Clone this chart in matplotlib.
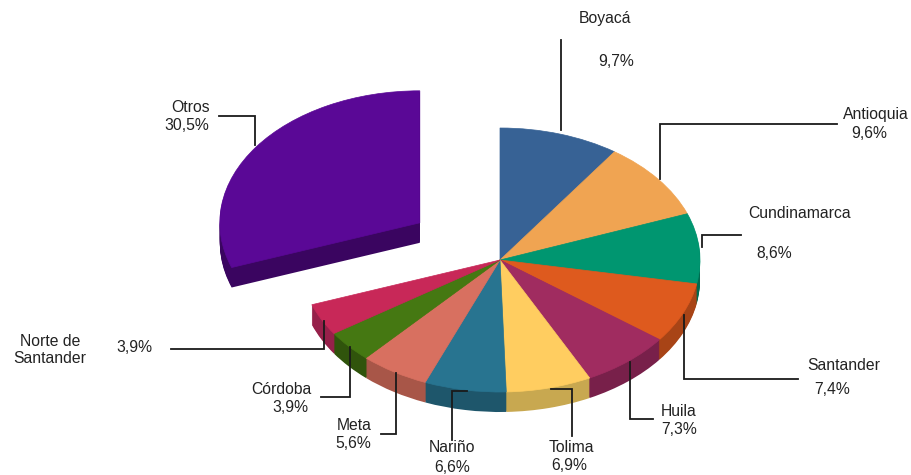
import numpy as np
import matplotlib
matplotlib.use("Agg")
import matplotlib.pyplot as plt

plt.rcParams['font.family'] = ['Liberation Sans', 'DejaVu Sans']

# values in %, clockwise from 12 o'clock
deptos = ['Boyacá', 'Antioquia', 'Cundinamarca', 'Santander', 'Huila', 'Tolima',
          'Nariño', 'Meta', 'Córdoba', 'Norte de\nSantander', 'Otros']
valores = [9.7, 9.6, 8.6, 7.4, 7.3, 6.9, 6.6, 5.6, 3.9, 3.9, 30.5]
explode = [0, 0, 0, 0, 0, 0, 0, 0, 0, 0, 0.49]

colores = ['#376295', '#F0A452', '#009670', '#DE5A1E', '#A02C60', '#FFCD60',
           '#287490', '#D87060', '#457812', '#C82858', '#5A0896']
oscuros = ['#274669', '#AA743A', '#006A4F', '#A84416', '#78204A', '#C8A850',
           '#1E566B', '#A85648', '#30540C', '#96204A', '#3A0560']

W, H = 912, 475
cx, cy = 500, 260   # pie centre in px
rx, ry = 200, 132
prof = 20           # depth of the pie


def capa(ax, cols, d, lw):
    wedges, _ = ax.pie(valores, explode=explode, colors=cols, startangle=90,
                       counterclock=False, radius=1, center=(0, -d / ry))
    for w in wedges:
        w.set_edgecolor(w.get_facecolor())
        w.set_linewidth(lw)


fig = plt.figure(figsize=(W / 100, H / 100), dpi=100, facecolor='white')

# pie is squashed by the axes limits, so one data unit = rx px / ry px
ax = fig.add_axes([0, 0, 1, 1])
for d in range(prof, 0, -1):
    capa(ax, oscuros, d, 0)
capa(ax, colores, 0, 0.5)
ax.set_aspect('auto')
ax.set_xlim(-cx / rx, (W - cx) / rx)
ax.set_ylim((cy - H) / ry, cy / ry)

# overlay in pixels for the leader lines and the labels
ov = fig.add_axes([0, 0, 1, 1], facecolor='none')
ov.set_xlim(0, W)
ov.set_ylim(H, 0)
ov.axis('off')

guias = [
    ([561, 561], [40, 130]),
    ([660, 660, 837], [179, 124, 124]),
    ([702, 702, 741], [247, 235, 235]),
    ([684, 684, 798], [315, 379, 379]),
    ([630, 630, 653], [362, 419, 419]),
    ([551, 572, 572], [389, 389, 436]),
    ([467, 452, 452], [391, 391, 440]),
    ([396, 396, 381], [373, 434, 434]),
    ([350, 350, 321], [347, 397, 397]),
    ([324, 324, 171], [321, 349, 349]),
    ([255, 255, 219], [145, 116, 116]),
]
for xs, ys in guias:
    ov.plot(xs, ys, color='#1a1a1a', lw=1.3, solid_joinstyle='miter')

pos_nombre = [(605, 19), (876, 115), (800, 214), (844, 366), (679, 411), (571, 447),
              (452, 448), (354, 425), (281, 389), (50, 350), (191, 107)]
pos_valor = [(616, 61), (869, 134), (774, 254), (832, 389), (679, 429), (569, 465),
             (452, 467), (353, 443), (290, 407), (134, 347), (187, 126)]

for i, nombre in enumerate(deptos):
    ov.text(pos_nombre[i][0], pos_nombre[i][1], nombre, ha='center', va='center',
            fontsize=11.3, color='#222222', linespacing=1.1)
    etiqueta = f"{valores[i]:.1f}%".replace('.', ',')
    ov.text(pos_valor[i][0], pos_valor[i][1], etiqueta, ha='center', va='center',
            fontsize=11.3, color='#222222')

fig.savefig('out.png', dpi=100)
